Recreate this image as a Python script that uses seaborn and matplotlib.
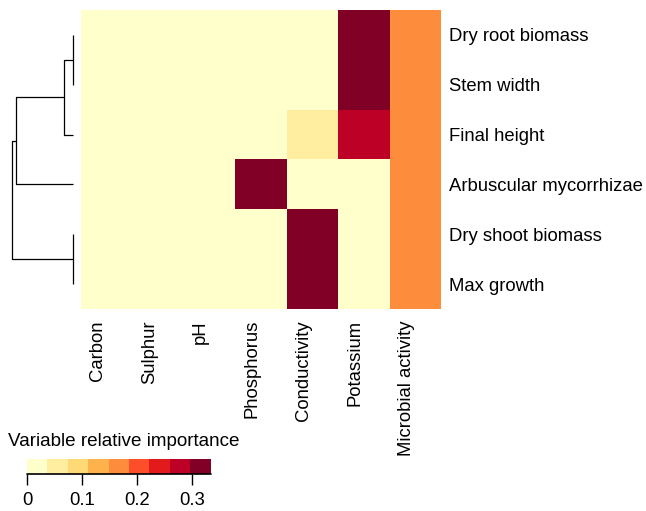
import numpy as np
import pandas as pd
import matplotlib
matplotlib.use("Agg")
import matplotlib.pyplot as plt
from matplotlib.colors import ListedColormap
import seaborn as sns

sns.set_theme(style="white")
plt.rcParams["font.family"] = ["Liberation Sans", "DejaVu Sans"]
plt.rcParams["text.color"] = "black"
plt.rcParams["xtick.color"] = "black"
plt.rcParams["ytick.color"] = "black"

# Responses (rows) and soil / biological predictors (columns)
responses = ["Dry root biomass", "Stem width", "Final height",
             "Arbuscular mycorrhizae", "Dry shoot biomass", "Max growth"]
predictors = ["Carbon", "Sulphur", "pH", "Phosphorus",
              "Conductivity", "Potassium", "Microbial activity"]

carbon       = [0.0, 0.0, 0.0, 0.0, 0.0, 0.0]
sulphur      = [0.0, 0.0, 0.0, 0.0, 0.0, 0.0]
ph           = [0.0, 0.0, 0.0, 0.0, 0.0, 0.0]
phosphorus   = [0.0, 0.0, 0.0, 0.333, 0.0, 0.0]
conductivity = [0.0, 0.0, 0.05, 0.0, 0.333, 0.333]
potassium    = [0.333, 0.333, 0.283, 0.0, 0.0, 0.0]
microbial    = [0.167, 0.167, 0.167, 0.167, 0.167, 0.167]

# Row clustering: (left child, right child, merge height); ids >= 6 are earlier merges
row_linkage = [(0, 1, 0.0),
               (4, 5, 0.0),
               (6, 2, 0.070),
               (8, 3, 0.474),
               (9, 7, 0.510)]

legend_ticks = [0, 0.1, 0.2, 0.3]
legend_labels = ["0", "0.1", "0.2", "0.3"]
vmax = 0.333

palette = ["#FFFFCC", "#FFEDA0", "#FED976", "#FEB24C", "#FD8D3C",
           "#FC4E2A", "#E31A1C", "#BD0026", "#800026"]

df = pd.DataFrame(
    np.column_stack([carbon, sulphur, ph, phosphorus, conductivity, potassium, microbial]),
    index=responses, columns=predictors)

W, H = 646, 511
fig = plt.figure(figsize=(W / 100, H / 100), dpi=100)

def px_axes(x0, y0, x1, y1):
    return fig.add_axes([x0 / W, 1 - y1 / H, (x1 - x0) / W, (y1 - y0) / H])

ax = px_axes(80.5, 10, 441, 309)
cax = px_axes(27, 459, 210.5, 474)
dax = px_axes(11.7, 10, 72.7, 309)

sns.heatmap(df, ax=ax, cmap=ListedColormap(palette), vmin=0, vmax=vmax,
            cbar=True, cbar_ax=cax, cbar_kws={"orientation": "horizontal"},
            linewidths=0, xticklabels=True, yticklabels=True)

fs = 13.3
ax.yaxis.tick_right()
ax.set_yticklabels(responses, rotation=0, fontsize=fs, ha="left")
ax.set_xticklabels(predictors, rotation=90, fontsize=fs, ha="right", va="top")
ax.tick_params(axis="y", length=0, pad=6)
ax.tick_params(axis="x", length=0, pad=8)
ax.set_xlabel("")
ax.set_ylabel("")

# Colour key
cbar = ax.collections[0].colorbar
cbar.outline.set_visible(False)
cbar.set_ticks(legend_ticks)
cbar.set_ticklabels(legend_labels)
cax.tick_params(axis="x", length=8, width=1, direction="out", color="black",
                labelsize=fs, pad=5, bottom=True)
cax.plot([0, 1], [0, 0], transform=cax.transAxes, color="black", lw=1.2,
         clip_on=False)
fig.text(8 / W, 1 - 441 / H, "Variable relative importance", fontsize=fs + 0.3,
         ha="left", va="center")

# Row dendrogram
pos = {i: i + 0.5 for i in range(len(responses))}
hgt = {i: 0.0 for i in range(len(responses))}
for k, (a, b, h) in enumerate(row_linkage):
    node = len(responses) + k
    dax.plot([hgt[a], h, h, hgt[b]], [pos[a], pos[a], pos[b], pos[b]],
             color="black", lw=0.9, solid_capstyle="butt", clip_on=False)
    pos[node] = (pos[a] + pos[b]) / 2
    hgt[node] = h
dax.set_ylim(len(responses), 0)
dax.set_xlim(row_linkage[-1][2], 0)
dax.axis("off")

fig.savefig("out.png", dpi=100)
